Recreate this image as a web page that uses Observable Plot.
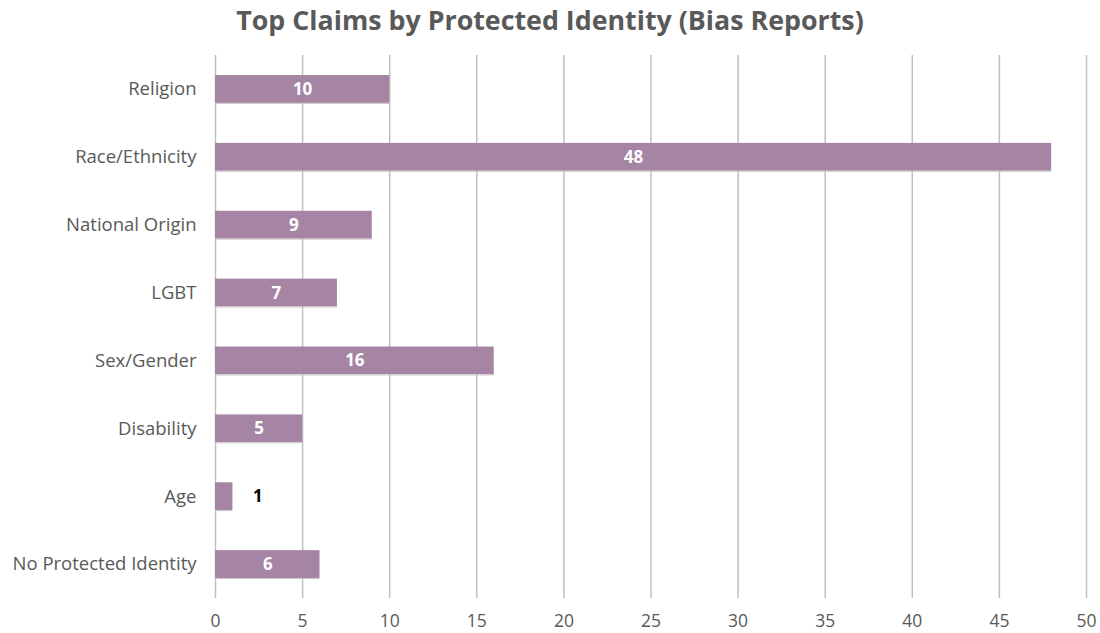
<!DOCTYPE html>
<html>
<head>
<meta charset="utf-8">
<script src="https://cdn.jsdelivr.net/npm/d3@7"></script>
<script src="https://cdn.jsdelivr.net/npm/@observablehq/plot@0.6"></script>
<style>
  html, body { margin: 0; padding: 0; background: #fff; }
  #title { width: 1100px; height: 45px; text-align: center; font-family: "Open Sans", sans-serif; font-weight: 700; font-size: 26.8px; color: #595959; line-height: 40px; padding-left: 0px; }
  #chart svg { display: block; }
</style>
</head>
<body>
<div id="title">Top Claims by Protected Identity (Bias Reports)</div>
<div id="chart"></div>
<script>
const categories = ["Religion", "Race/Ethnicity", "National Origin", "LGBT", "Sex/Gender", "Disability", "Age", "No Protected Identity"];
const counts = [10, 48, 9, 7, 16, 5, 1, 6];
const xTicks = [0, 5, 10, 15, 20, 25, 30, 35, 40, 45, 50];

const data = categories.map((c, i) => ({category: c, value: counts[i]}));
const inside = data.filter(d => d.value >= 3);
const outside = data.filter(d => d.value < 3);

const chart = Plot.plot({
  width: 1100,
  height: 588,
  marginLeft: 215,
  marginRight: 14,
  marginTop: 10,
  marginBottom: 35,
  style: {fontFamily: "'Open Sans', sans-serif", fontSize: "17.5px", color: "#595959", background: "#fff"},
  x: {domain: [0, 50], ticks: xTicks, tickSize: 0, tickPadding: 16, label: null},
  y: {domain: categories, paddingInner: 0.59, paddingOuter: 0.295, round: false, tickSize: 0, tickPadding: 19, label: null},
  marks: [
    Plot.ruleX(xTicks, {stroke: "#bfbfbf", strokeWidth: 1.5}),
    Plot.barX(data, {y: "category", x: "value", fill: "#a585a3"}),
    Plot.ruleY(data, {y: "category", x1: 0, x2: "value", stroke: "#c8c8c8", strokeWidth: 1, dy: 14}),
    Plot.axisY({tickSize: 0, tickPadding: 19, fontSize: 18.5, label: null}),
    Plot.text(inside, {y: "category", x: d => d.value / 2, text: d => String(d.value), fill: "white", fontWeight: "bold", fontSize: 17}),
    Plot.text(outside, {y: "category", x: "value", text: d => String(d.value), fill: "black", fontWeight: "bold", fontSize: 17, textAnchor: "start", dx: 20})
  ]
});
document.getElementById("chart").appendChild(chart);
</script>
</body>
</html>
